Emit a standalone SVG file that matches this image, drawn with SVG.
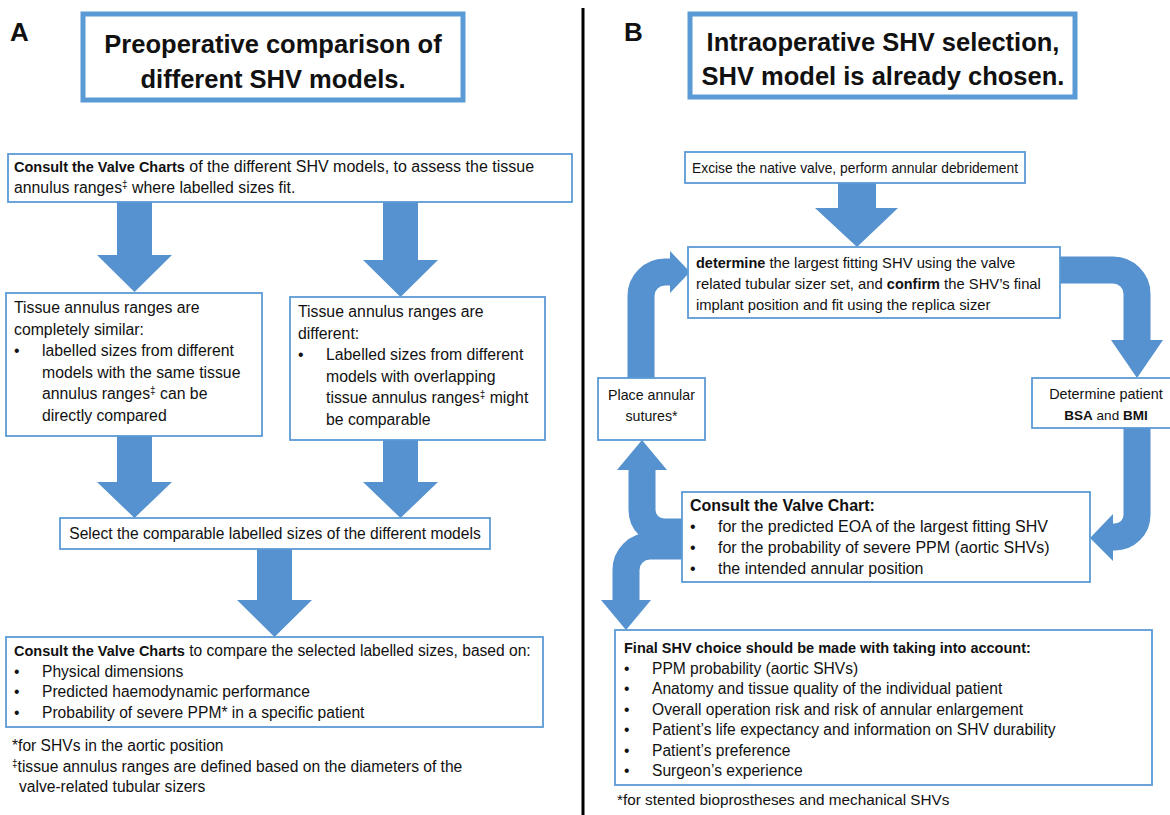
<svg xmlns="http://www.w3.org/2000/svg" width="1170" height="815" viewBox="0 0 1170 815">
<style>
text{font-family:"Liberation Sans",Arial,sans-serif;fill:#111;}
.t{font-size:15.6px;}
.m{font-size:15.8px;}
.b{font-weight:bold;font-size:14.5px;}
.h{font-size:25.5px;font-weight:bold;text-anchor:middle;}
.lbl{font-size:26px;font-weight:bold;}
.c{text-anchor:middle;}
.sup{font-size:10px;}
.box{fill:#fff;stroke:#5B9BD5;stroke-width:1.8;}
.tbox{fill:#fff;stroke:#5B9BD5;stroke-width:5;}
.arr{fill:#5592CF;}
.cur{fill:none;stroke:#5592CF;stroke-width:27;}
</style>
<rect width="1170" height="815" fill="#fff"/>
<line x1="583" y1="8" x2="583" y2="815" stroke="#000" stroke-width="3"/>

<g id="connectors">
<polygon class="arr" points="117,202 152,202 152,255 172,255 134.5,292 97,255 117,255"/>
<polygon class="arr" points="383,202 418,202 418,260 438,260 400.5,297 363,260 383,260"/>
<polygon class="arr" points="117,436 152,436 152,482 172,482 134.5,518 97,482 117,482"/>
<polygon class="arr" points="383,440 418,440 418,482 438,482 400.5,518 363,482 383,482"/>
<polygon class="arr" points="257,549 292,549 292,600 312,600 274.5,637 237,600 257,600"/>
<polygon class="arr" points="838,183 876,183 876,208 898,208 857,247 815,208 838,208"/>
<path class="cur" d="M641 378 V296 A24 24 0 0 1 665 272 H672"/>
<polygon class="arr" points="670,251 690,272 670,293"/>
<path class="cur" d="M1060 270 H1113 A24 24 0 0 1 1137 294 V342"/>
<polygon class="arr" points="1111,340 1163,340 1137,378"/>
<path class="cur" d="M1137 428 V515 A22 22 0 0 1 1115 537 H1110"/>
<polygon class="arr" points="1113,514 1113,561 1090,538"/>
<path class="cur" d="M682 532 H664 A22 22 0 0 1 642 510 V468"/>
<polygon class="arr" points="617,470 667,470 642,440"/>
<path class="cur" d="M682 546 H650 A24 24 0 0 0 626 570 V602"/>
<polygon class="arr" points="601,600 651,600 626,630"/>
</g>

<g id="panelA-label"><text class="lbl" x="10" y="41">A</text></g>
<g id="titleA">
<rect class="tbox" x="83" y="14" width="380" height="86"/>
<text class="h" x="273" y="53">Preoperative comparison of</text>
<text class="h" x="273" y="88">different SHV models.</text>
</g>
<g id="consultA1">
<rect class="box" x="8" y="154" width="564" height="48"/>
<text x="14" y="172" font-size="16"><tspan class="b">Consult the Valve Charts</tspan> of the different SHV models, to assess the tissue</text>
<text x="14" y="193" font-size="15.8">annulus ranges<tspan class="sup" dy="-5">‡</tspan><tspan dy="5"> where labelled sizes fit.</tspan></text>
</g>
<g id="similar">
<rect class="box" x="6" y="293" width="256" height="143"/>
<text class="m" x="14" y="313">Tissue annulus ranges are</text>
<text class="m" x="14" y="334.5">completely similar:</text>
<text class="m" x="14" y="356">•</text>
<text class="m" x="42" y="356">labelled sizes from different</text>
<text class="m" x="42" y="377.5">models with the same tissue</text>
<text class="m" x="42" y="399">annulus ranges<tspan class="sup" dy="-5">‡</tspan><tspan dy="5"> can be</tspan></text>
<text class="m" x="42" y="420.5">directly compared</text>
</g>
<g id="different">
<rect class="box" x="290" y="297" width="255" height="143"/>
<text class="m" x="298" y="317">Tissue annulus ranges are</text>
<text class="m" x="298" y="338.5">different:</text>
<text class="m" x="298" y="360">•</text>
<text class="m" x="326" y="360">Labelled sizes from different</text>
<text class="m" x="326" y="381.5">models with overlapping</text>
<text class="m" x="326" y="403">tissue annulus ranges<tspan class="sup" dy="-5">‡</tspan><tspan dy="5"> might</tspan></text>
<text class="m" x="326" y="424.5">be comparable</text>
</g>
<g id="select">
<rect class="box" x="60" y="518" width="430" height="31"/>
<text class="t c" x="275" y="539">Select the comparable labelled sizes of the different models</text>
</g>
<g id="consultA2">
<rect class="box" x="6" y="637" width="537" height="90"/>
<text class="t" x="14" y="656"><tspan class="b">Consult the Valve Charts</tspan> to compare the selected labelled sizes, based on:</text>
<text class="t" x="14" y="676.5">•</text><text class="t" x="42" y="676.5">Physical dimensions</text>
<text class="t" x="14" y="697">•</text><text class="t" x="42" y="697">Predicted haemodynamic performance</text>
<text class="t" x="14" y="717.5">•</text><text class="t" x="42" y="717.5">Probability of severe PPM* in a specific patient</text>
</g>
<g id="footA">
<text class="t" x="12" y="751">*for SHVs in the aortic position</text>
<text class="t" x="12" y="772"><tspan class="sup" dy="-5">‡</tspan><tspan dy="5">tissue annulus ranges are defined based on the diameters of the</tspan></text>
<text class="t" x="19" y="792">valve-related tubular sizers</text>
</g>

<g id="panelB-label"><text class="lbl" x="624" y="41">B</text></g>
<g id="titleB">
<rect class="tbox" x="690" y="14" width="385" height="83"/>
<text class="h" x="883" y="51">Intraoperative SHV selection,</text>
<text class="h" x="883" y="85">SHV model is already chosen.</text>
</g>
<g id="excise">
<rect class="box" x="685" y="152" width="340" height="31"/>
<text class="c" x="855" y="173" font-size="13.8">Excise the native valve, perform annular debridement</text>
</g>
<g id="determine">
<rect class="box" x="688" y="247" width="372" height="71"/>
<text x="696" y="268" font-size="14.8"><tspan class="b">determine</tspan> the largest fitting SHV using the valve</text>
<text x="696" y="289" font-size="14.8">related tubular sizer set, and <tspan class="b">confirm</tspan> the SHV’s final</text>
<text x="696" y="310" font-size="14.8">implant position and fit using the replica sizer</text>
</g>
<g id="sutures">
<rect class="box" x="598" y="378" width="107" height="62"/>
<text class="c" x="651.5" y="400" font-size="14.2">Place annular</text>
<text class="c" x="651.5" y="421" font-size="14.2">sutures*</text>
</g>
<g id="bsa">
<rect class="box" x="1032" y="378" width="150" height="50"/>
<text class="c" x="1106" y="399" font-size="14.4">Determine patient</text>
<text class="c" x="1106" y="420" font-size="13.5"><tspan font-weight="bold">BSA</tspan> and <tspan font-weight="bold">BMI</tspan></text>
</g>
<g id="consultB">
<rect class="box" x="682" y="492" width="408" height="90"/>
<text x="690" y="511" font-size="16" font-weight="bold">Consult the Valve Chart:</text>
<text x="690" y="532" font-size="16">•</text><text x="718" y="532" font-size="16">for the predicted EOA of the largest fitting SHV</text>
<text x="690" y="553" font-size="16">•</text><text x="718" y="553" font-size="16">for the probability of severe PPM (aortic SHVs)</text>
<text x="690" y="574" font-size="16">•</text><text x="718" y="574" font-size="16">the intended annular position</text>
</g>
<g id="final">
<rect class="box" x="615" y="630" width="537" height="155"/>
<text class="b" x="624" y="653">Final SHV choice should be made with taking into account:</text>
<text class="t" x="624" y="673.5">•</text><text class="t" x="652" y="673.5">PPM probability (aortic SHVs)</text>
<text class="t" x="624" y="694">•</text><text class="t" x="652" y="694">Anatomy and tissue quality of the individual patient</text>
<text class="t" x="624" y="714.5">•</text><text class="t" x="652" y="714.5">Overall operation risk and risk of annular enlargement</text>
<text class="t" x="624" y="735">•</text><text class="t" x="652" y="735">Patient’s life expectancy and information on SHV durability</text>
<text class="t" x="624" y="755.5">•</text><text class="t" x="652" y="755.5">Patient’s preference</text>
<text class="t" x="624" y="776">•</text><text class="t" x="652" y="776">Surgeon’s experience</text>
</g>
<g id="footB">
<text x="617" y="805" font-size="15.3">*for stented bioprostheses and mechanical SHVs</text>
</g>
</svg>
